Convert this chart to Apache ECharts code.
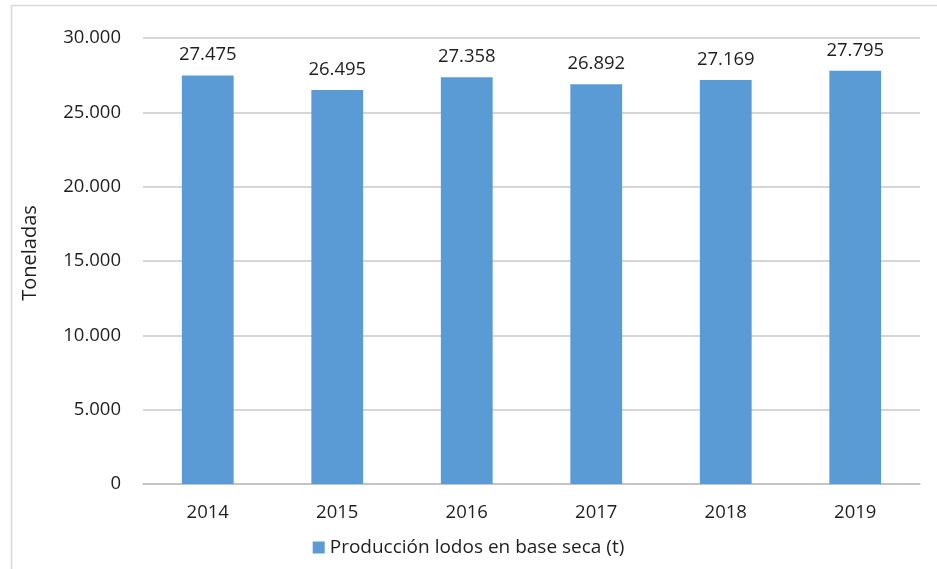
<!DOCTYPE html>
<html>
<head>
<meta charset="utf-8">
<script src="https://cdn.jsdelivr.net/npm/echarts@6/dist/echarts.min.js"></script>
<style>
  html, body { margin: 0; padding: 0; background: #fff; }
  #chart { width: 937px; height: 569px; }
</style>
</head>
<body>
<div id="chart"></div>
<script>
// Annual dry-basis sludge production, tonnes
const years = ['2014', '2015', '2016', '2017', '2018', '2019'];
const production = [27475, 26495, 27358, 26892, 27169, 27795];
const seriesName = 'Producción lodos en base seca (t)';
const yTicks = { min: 0, max: 30000, interval: 5000 };

const fmt = v => v === 0 ? '0' : v.toString().replace(/\B(?=(\d{3})+(?!\d))/g, '.');
const FONT = '"Open Sans", "Noto Sans", sans-serif';
const TEXT = '#1f1f1f';

const chart = echarts.init(document.getElementById('chart'), null, { renderer: 'canvas' });
chart.setOption({
  animation: false,
  backgroundColor: '#fff',
  textStyle: { fontFamily: FONT },
  graphic: [{
    type: 'rect',
    shape: { x: 11.5, y: 5.5, width: 940, height: 580 },
    style: { fill: 'none', stroke: '#d9d9d9', lineWidth: 1.5 },
    z: -1
  }],
  grid: { left: 143, right: 17, top: 38, bottom: 85, containLabel: false },
  legend: {
    bottom: 7,
    left: 'center',
    itemWidth: 12,
    itemHeight: 12,
    icon: 'rect',
    itemGap: 8,
    textStyle: { fontSize: 19, color: TEXT, fontFamily: FONT },
    data: [seriesName]
  },
  xAxis: {
    type: 'category',
    data: years,
    axisLine: { show: true, lineStyle: { color: '#bfbfbf', width: 1.5 } },
    axisTick: { show: false },
    axisLabel: { fontSize: 18.5, color: TEXT, margin: 19, fontFamily: FONT }
  },
  yAxis: {
    type: 'value',
    min: yTicks.min,
    max: yTicks.max,
    interval: yTicks.interval,
    name: 'Toneladas',
    nameLocation: 'middle',
    nameGap: 103,
    nameTextStyle: { fontSize: 20, color: TEXT, fontFamily: FONT, padding: [0, 0, 0, 16] },
    axisLine: { show: false },
    axisTick: { show: false },
    splitLine: { lineStyle: { color: '#c8c8c8', width: 1.5 } },
    axisLabel: { fontSize: 18.5, color: TEXT, margin: 22, formatter: fmt, fontFamily: FONT }
  },
  series: [{
    name: seriesName,
    type: 'bar',
    data: production,
    barWidth: '40%',
    itemStyle: { color: '#5b9bd5' },
    label: {
      show: true,
      position: 'top',
      distance: 11,
      fontSize: 18.5,
      color: TEXT,
      fontFamily: FONT,
      formatter: p => fmt(p.value)
    }
  }]
});
</script>
</body>
</html>
